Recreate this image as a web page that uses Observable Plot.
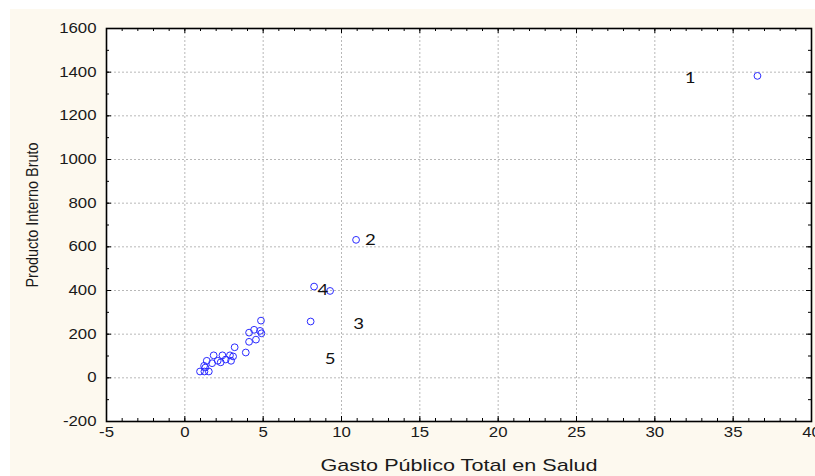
<!DOCTYPE html>
<html>
<head>
<meta charset="utf-8">
<script src="https://cdn.jsdelivr.net/npm/d3@7"></script>
<script src="https://cdn.jsdelivr.net/npm/@observablehq/plot@0.6"></script>
<style>
  html, body { margin: 0; padding: 0; background: #ffffff; }
  #wrap { position: absolute; left: 10px; top: 9px; width: 805px; height: 467px; background: #fdf9ef; overflow: hidden; }
  svg { display: block; background: transparent; }
</style>
</head>
<body>
<div id="wrap"></div>
<script>
// Data
const gastoSalud = [36.55, 10.93, 8.25, 9.27, 8.03,
  4.86, 4.10, 4.42, 4.80, 4.89, 4.10, 4.54, 3.18, 3.89,
  1.84, 2.40, 2.88, 3.08, 1.40, 1.74, 2.10, 2.29, 2.61, 2.95,
  1.23, 1.31, 0.97, 1.53, 1.25];
const pib = [1383, 632, 418, 398, 258,
  262, 207, 220, 215, 204, 165, 175, 140, 116,
  103, 103, 103, 98, 78, 67, 78, 71, 84, 78,
  55, 47, 29, 29, 29];

const caseLabels = ["1", "2", "3", "4", "5"];
const caseLabelX = [32.25, 11.84, 11.09, 8.81, 9.28];
const caseLabelY = [1372, 630, 245, 402, 88];

const xMajor = [-5, 0, 5, 10, 15, 20, 25, 30, 35, 40];
const xMinor = d3.range(-5, 41, 1);
const yMajor = [-200, 0, 200, 400, 600, 800, 1000, 1200, 1400, 1600];
const yMinor = d3.range(-200, 1601, 100);

const xTitle = "Gasto Público Total en Salud";
const yTitle = "Producto Interno Bruto";

const points = gastoSalud.map((x, i) => ({x, y: pib[i]}));
const labels = caseLabels.map((t, i) => ({t, x: caseLabelX[i], y: caseLabelY[i]}));

const W = 805, H = 467;
const mL = 96, mT = 19, mR = 4, mB = 55;
const pw = W - mL - mR, ph = H - mT - mB;
const plain = d => String(d);

const chart = Plot.plot({
  width: W, height: H,
  marginLeft: mL, marginTop: mT, marginRight: mR, marginBottom: mB,
  style: {fontFamily: "'Liberation Sans', Arial, sans-serif", background: "transparent", color: "#1a1a1a"},
  x: {domain: [-5, 40], label: null},
  y: {domain: [-200, 1600], label: null},
  marks: [
    Plot.frame({fill: "white", stroke: "none"}),
    Plot.gridX(xMajor, {stroke: "#b8b8b8", strokeOpacity: 1, strokeDasharray: "2,2"}),
    Plot.gridY(yMajor, {stroke: "#b8b8b8", strokeOpacity: 1, strokeDasharray: "2,2"}),
    // inward ticks, bottom & top
    Plot.ruleX(xMinor, {x: d => d, insetTop: ph - 3, stroke: "black"}),
    Plot.ruleX(xMajor, {x: d => d, insetTop: ph - 5, stroke: "black"}),
    Plot.ruleX(xMinor, {x: d => d, insetBottom: ph - 3, stroke: "black"}),
    Plot.ruleX(xMajor, {x: d => d, insetBottom: ph - 5, stroke: "black"}),
    // inward ticks, left & right
    Plot.ruleY(yMinor, {y: d => d, insetRight: pw - 3, stroke: "black"}),
    Plot.ruleY(yMajor, {y: d => d, insetRight: pw - 5, stroke: "black"}),
    Plot.ruleY(yMinor, {y: d => d, insetLeft: pw - 3, stroke: "black"}),
    Plot.ruleY(yMajor, {y: d => d, insetLeft: pw - 5, stroke: "black"}),
    Plot.dot(points, {x: "x", y: "y", r: 3.4, stroke: "#2b2bff", strokeWidth: 1, fill: "none"}),
    Plot.text(labels, {x: "x", y: "y", text: "t", fontSize: 15.5, fill: "#111", fontFamily: "Lato, 'Open Sans', sans-serif", className: "stretch"}),
    Plot.frame({stroke: "black", strokeWidth: 1.6}),
    Plot.axisX(xMajor, {tickSize: 0, tickPadding: 6, fontSize: 14, label: null, tickFormat: plain, className: "stretch"}),
    Plot.axisY(yMajor, {tickSize: 0, tickPadding: 10, fontSize: 14, label: null, tickFormat: plain, className: "stretch"}),
    Plot.text([xTitle], {frameAnchor: "bottom", textAnchor: "middle", lineAnchor: "middle", dy: 44, fontSize: 17, fill: "#1a1a1a", className: "xtitle"}),
    Plot.text([yTitle], {frameAnchor: "left", textAnchor: "middle", lineAnchor: "middle", dx: -74, dy: -10, rotate: -90, fontSize: 16, fill: "#1a1a1a", className: "ytitle"})
  ]
});

document.getElementById("wrap").appendChild(chart);

// emulate the horizontally stretched look of the original image
chart.querySelectorAll("g[aria-label] text").forEach(t => {
  const g = t.closest("g");
  const cls = (g.getAttribute("class") || "") + " " + ((g.parentNode && g.parentNode.getAttribute && g.parentNode.getAttribute("class")) || "");
  let target = null;
  if (cls.includes("xtitle")) target = 277;
  else if (cls.includes("ytitle")) target = 145;
  else if (cls.includes("stretch")) target = t.getComputedTextLength() * 1.2;
  if (target) {
    t.setAttribute("textLength", target);
    t.setAttribute("lengthAdjust", "spacingAndGlyphs");
  }
});
</script>
</body>
</html>
